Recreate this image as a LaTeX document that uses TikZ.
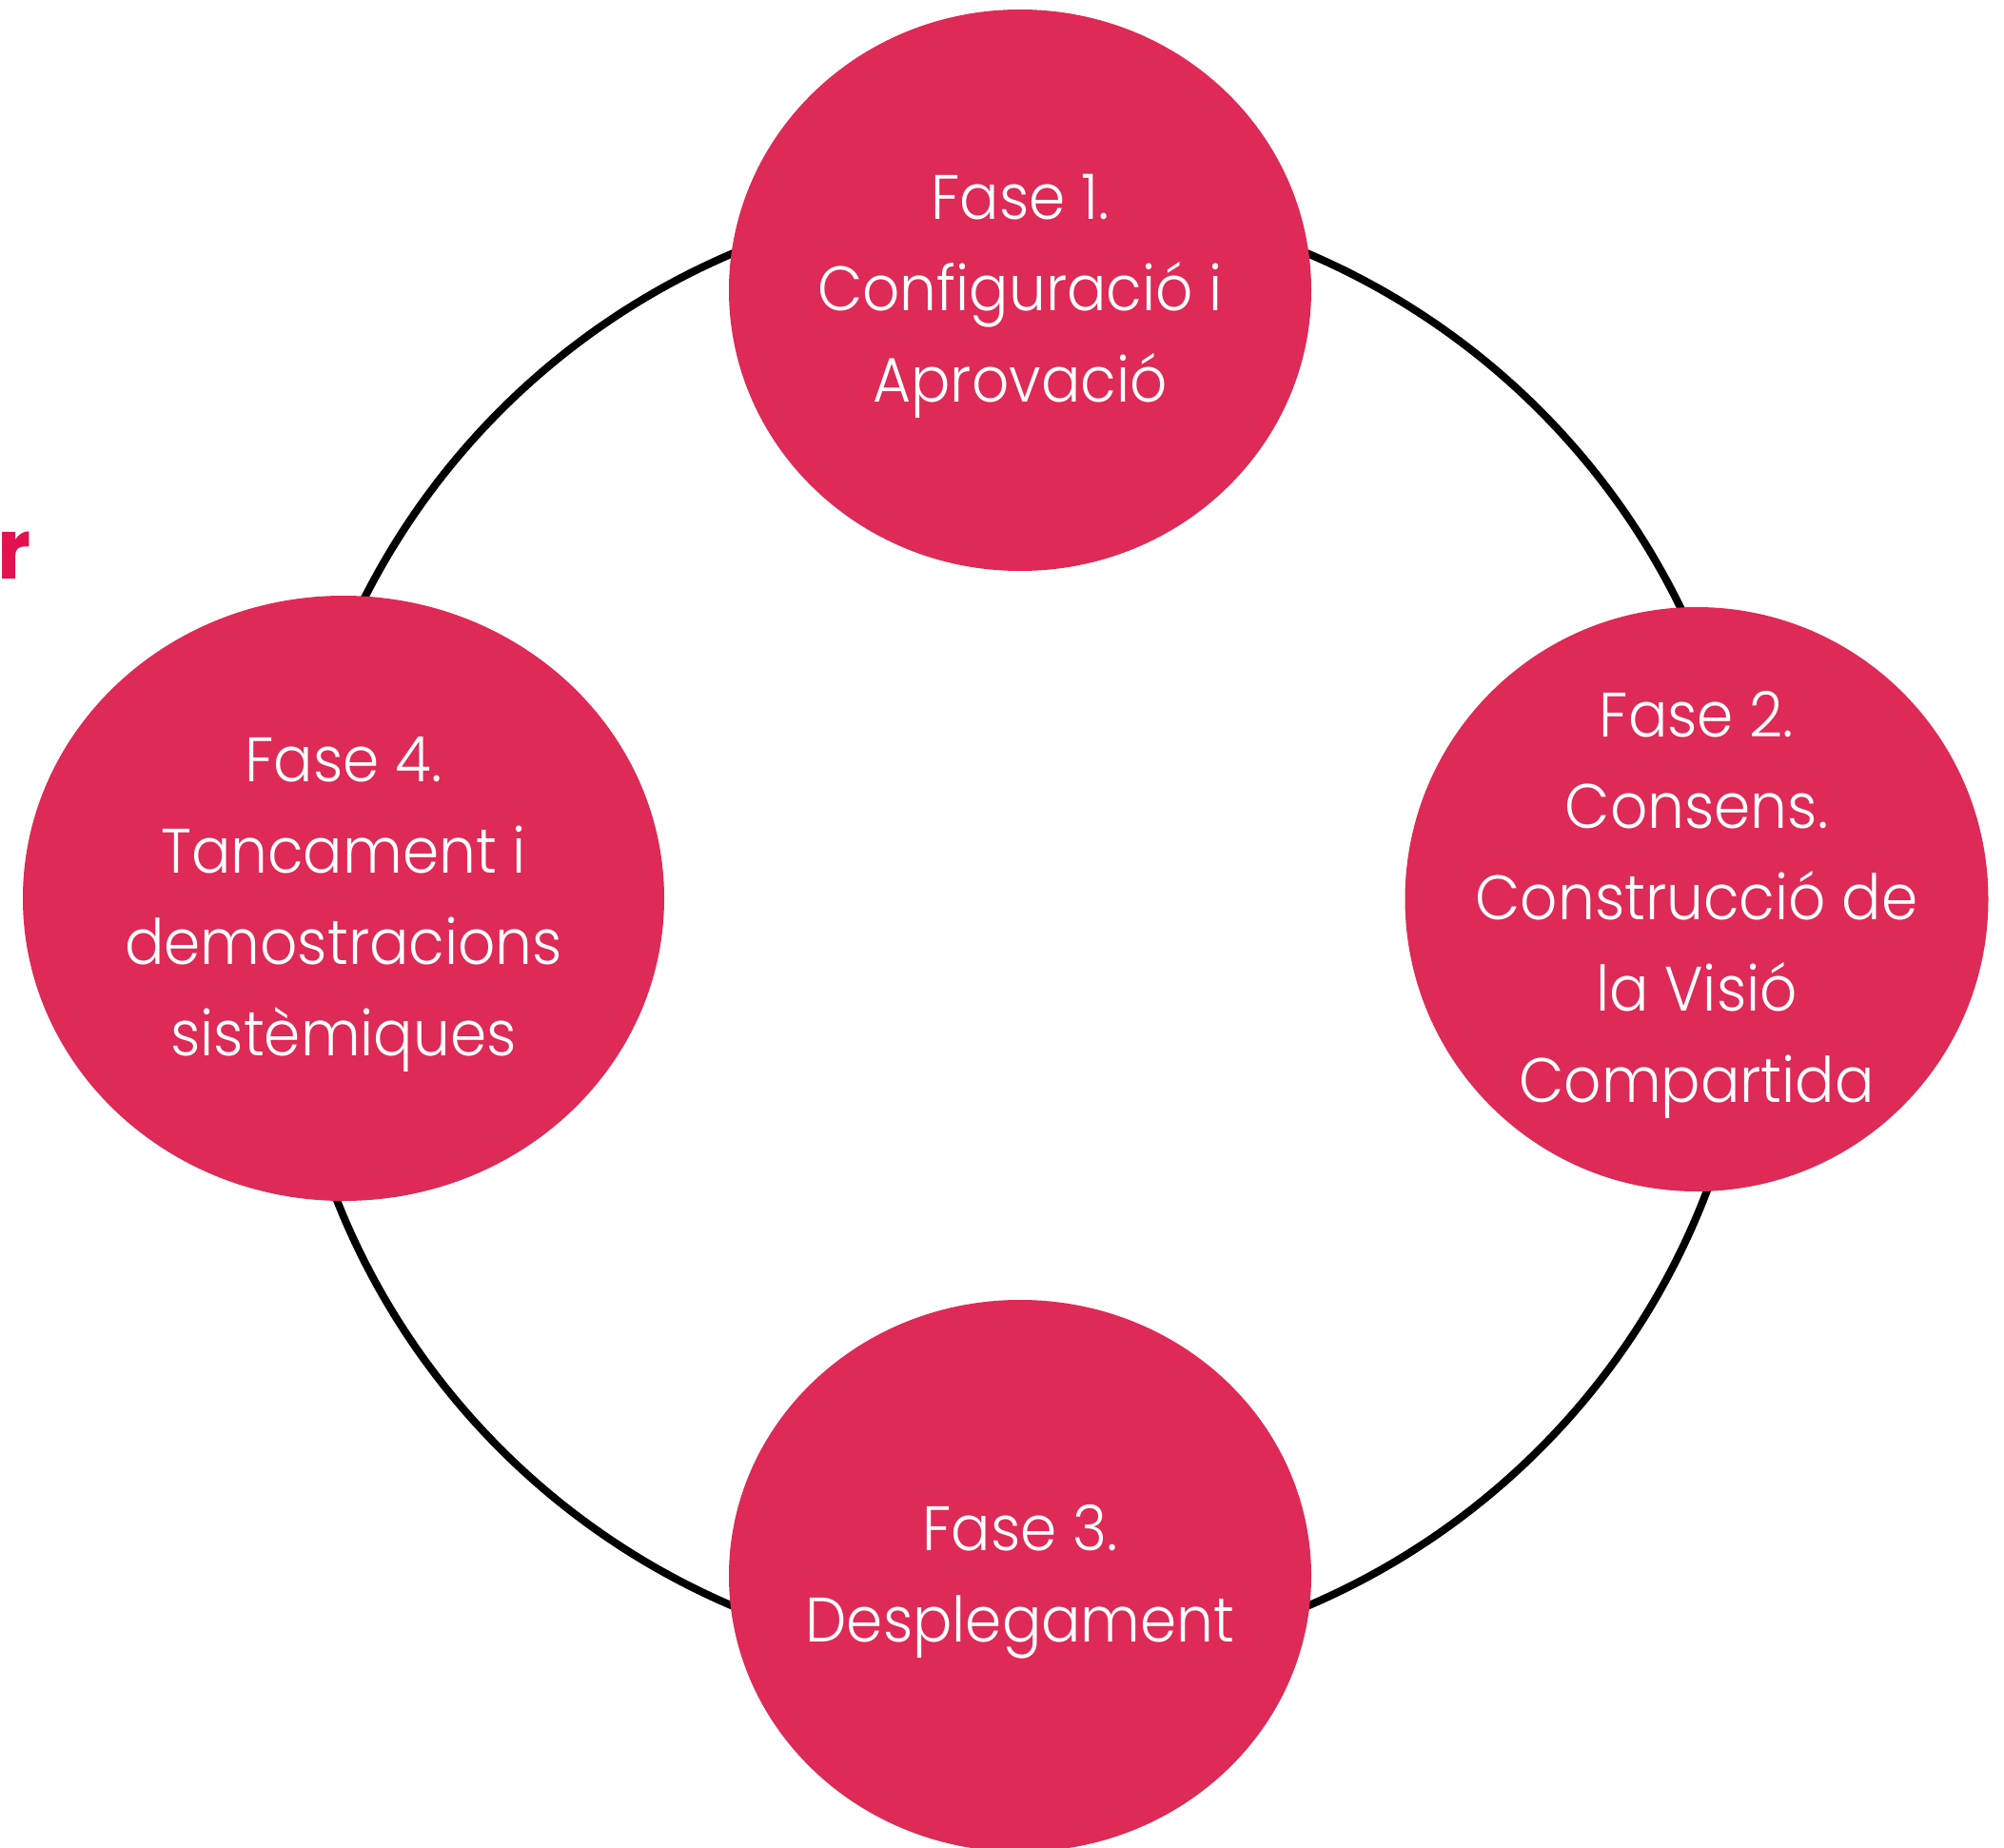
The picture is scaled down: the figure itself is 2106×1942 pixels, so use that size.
\documentclass[tikz,border=0pt]{standalone}
\usepackage{fontspec}
\setmainfont{Poppins}[UprightFont=* Light, BoldFont=* Bold, FakeStretch=0.93]
\usetikzlibrary{shapes.geometric}
\definecolor{phasefill}{HTML}{DE2A56}
\definecolor{titlered}{HTML}{E2124F}
\begin{document}
\begin{tikzpicture}[x=0.5pt,y=-0.5pt,
  phase/.style={ellipse, fill=phasefill, inner sep=0pt, outer sep=0pt},
  phasetext/.style={inner sep=0pt, text=white, align=center, yshift=-3pt,
    font=\fontsize{33}{48}\selectfont},
  ring/.style={draw=black, line width=4pt}]
\useasboundingbox (0,0) rectangle (2106,1942);
\coordinate (c) at (1072,977);
\draw[ring] (c) circle[radius=386pt];
\node[phase, minimum width=306pt, minimum height=295pt] (p1) at (1072,305) {};
\node[phasetext] (t1) at (p1.center) {Fase 1.\\Configuració i\\Aprovació};
\node[phase, minimum width=306.5pt, minimum height=307pt] (p2) at (1783,945) {};
\node[phasetext] (t2) at (p2.center) {Fase 2.\\Consens.\\Construcció de\\la Visió\\Compartida};
\node[phase, minimum width=306pt, minimum height=290pt] (p3) at (1072,1656) {};
\node[phasetext] (t3) at (p3.center) {Fase 3.\\Desplegament};
\node[phase, minimum width=337pt, minimum height=318pt] (p4) at (361,944) {};
\node[phasetext] (t4) at (p4.center) {Fase 4.\\Tancament i\\demostracions\\sistèmiques};
\node[anchor=base east, inner sep=0pt, text=titlered, font=\bfseries\fontsize{44}{44}\selectfont] (t) at (33,608) {r};
\end{tikzpicture}
\end{document}
